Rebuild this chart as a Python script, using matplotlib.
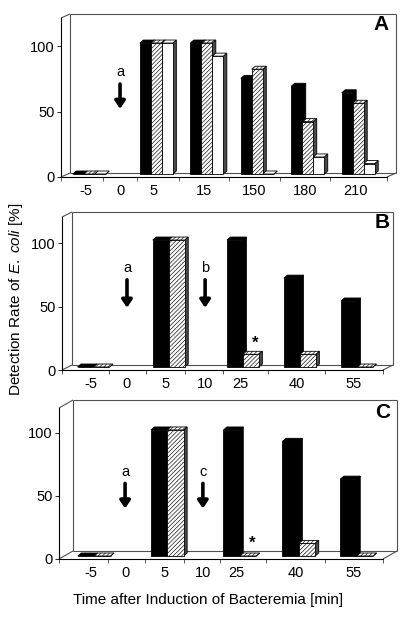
import matplotlib
matplotlib.use('Agg')
import matplotlib.pyplot as plt
from matplotlib.patches import Polygon
from matplotlib.collections import LineCollection

plt.rcParams['font.family'] = ['Liberation Sans', 'DejaVu Sans']
plt.rcParams['mathtext.fontset'] = 'custom'
plt.rcParams['mathtext.it'] = 'Liberation Sans:italic'
plt.rcParams['mathtext.rm'] = 'Liberation Sans'
plt.rcParams['hatch.linewidth'] = 0.45

# ---------------- data ----------------
cats_A = ['-5', '0', '5', '15', '150', '180', '210']
A_black = [0, None, 100, 100, 73, 67, 62]
A_hatch = [0, None, 100, 100, 80, 40, 54]
A_white = [0, None, 100, 90, 0, 13, 8]

cats_BC = ['-5', '0', '5', '10', '25', '40', '55']
B_black = [0, None, 100, None, 100, 70, 52]
B_hatch = [0, None, 100, None, 10, 10, 0]
C_black = [0, None, 100, None, 100, 91, 61]
C_hatch = [0, None, 100, None, 0, 10, 0]

yticks = [0, 50, 100]

# ---------------- layout ----------------
W, H = 409, 619
fig = plt.figure(figsize=(W / 100, H / 100), dpi=100)

STY_BLACK = dict(face='black', hatch=None, side='black')
STY_HATCH = dict(face='white', hatch='////////', side='#4a4a4a')
STY_WHITE = dict(face='white', hatch=None, side='#4a4a4a')


def panel(rect, ytop, xmax, pos, cats, series, styles, bw, wall, letter,
          letter_xy, notes):
    l, r, b, t = rect
    ax = fig.add_axes([l / W, 1 - b / H, (r - l) / W, (b - t) / H])
    ax.set_xlim(0, xmax)
    ax.set_ylim(0, ytop)
    sx = (r - l) / xmax
    sy = (b - t) / ytop
    px = lambda p: p / sx
    py = lambda p: p / sy

    # walls / floor
    wx, wy = px(wall[0]), py(wall[1])
    segs = [[(0, ytop), (wx, ytop + wy)],
            [(wx, ytop + wy), (xmax + wx, ytop + wy)],
            [(wx, wy), (wx, ytop + wy)],
            [(xmax + wx, ytop + wy), (xmax + wx, wy)],
            [(wx, wy), (xmax + wx, wy)],
            [(0, 0), (wx, wy)],
            [(xmax, 0), (xmax + wx, wy)]]
    lc = LineCollection(segs, colors='#505050', linewidths=0.8, clip_on=False, zorder=1)
    ax.add_collection(lc)

    for s in ['top', 'right']:
        ax.spines[s].set_visible(False)
    for s in ['left', 'bottom']:
        ax.spines[s].set_linewidth(0.8)

    # bars
    n = len(series)
    ox, oy = px(3), py(3)
    dx, dy = px(3.5), py(3)
    z = 3.0
    for i, p in enumerate(pos):
        for j, (vals, st) in enumerate(zip(series, styles)):
            v = vals[i]
            if v is None:
                continue
            x0 = p - n * bw / 2 + j * bw + ox
            y0 = oy
            side = Polygon([(x0 + bw, y0), (x0 + bw + dx, y0 + dy),
                            (x0 + bw + dx, y0 + v + dy), (x0 + bw, y0 + v)],
                           closed=True, facecolor=st['side'], edgecolor='black',
                           lw=0.6, zorder=z)
            ax.add_patch(side)
            top = Polygon([(x0, y0 + v), (x0 + dx, y0 + v + dy),
                           (x0 + bw + dx, y0 + v + dy), (x0 + bw, y0 + v)],
                          closed=True, facecolor=st['face'], edgecolor='black',
                          lw=0.6, hatch=st['hatch'], zorder=z + 0.001)
            ax.add_patch(top)
            ax.bar(x0, v, bw, bottom=y0, align='edge', color=st['face'],
                   hatch=st['hatch'], edgecolor='black', lw=0.6, zorder=z + 0.002)
            z += 0.01

    # ticks
    ax.set_xticks(pos)
    ax.set_xticklabels(cats)
    bounds = [0] + [(pos[k] + pos[k + 1]) / 2 for k in range(len(pos) - 1)] + [xmax]
    ax.set_xticks(bounds, minor=True)
    ax.tick_params(axis='x', which='major', length=0, pad=5, labelsize=10.5)
    ax.tick_params(axis='x', which='minor', length=3, width=0.6, color='#404040')
    ax.set_yticks(yticks)
    ax.tick_params(axis='y', length=3, width=0.6, pad=1.5, labelsize=10.5)

    fig.text(letter_xy[0] / W, 1 - letter_xy[1] / H, letter, fontsize=15,
             fontweight='bold', ha='center', va='center')

    for kind, x, y1, y2 in notes:
        if kind == '*':
            ax.text(x, y1, '*', fontsize=12, fontweight='bold', ha='center',
                    va='center', zorder=10)
        else:
            ax.text(x, y1, kind, fontsize=10.5, ha='center', va='center')
            ax.annotate('', xy=(x, y2), xytext=(x, y1 - 9),
                        arrowprops=dict(arrowstyle='-|>,head_length=0.45,head_width=0.3',
                                        lw=2.6, color='black', shrinkA=0, shrinkB=0))
    return ax


# Panel A
posA = [0.5, 1.17, 1.83, 2.83, 3.83, 4.83, 5.83]
panel((61, 387, 177, 18), 121.4, 6.46, posA, cats_A,
      [A_black, A_hatch, A_white], [STY_BLACK, STY_HATCH, STY_WHITE],
      0.218, (9, 4), 'A', (381, 25),
      [('a', posA[1], 80, 52)])

# Panel B
posB = [0.5, 1.14, 1.82, 2.51, 3.12, 4.12, 5.12]
bwB = 0.28
panel((62, 383, 370, 217), 120.5, 5.63, posB, cats_BC,
      [B_black, B_hatch], [STY_BLACK, STY_HATCH],
      bwB, (10, 5), 'B', (382, 222),
      [('a', posB[1], 80, 49), ('b', posB[3], 80, 49),
       ('*', posB[4] + bwB / 2 + 0.12, 21, None)])

# Panel C
posC = [0.55, 1.13, 1.8, 2.46, 3.04, 4.05, 5.04]
panel((59, 383, 559, 408), 119.8, 5.54, posC, cats_BC,
      [C_black, C_hatch], [STY_BLACK, STY_HATCH],
      bwB, (14, 8), 'C', (383, 413),
      [('a', posC[1], 69, 40), ('c', posC[3], 69, 40),
       ('*', posC[4] + bwB / 2 + 0.12, 12.5, None)])

fig.text(16 / W, 1 - 299 / H, r'Detection Rate of $\it{E.\ coli}$ [%]',
         rotation=90, ha='center', va='center', fontsize=11)
fig.text(208 / W, 1 - 600 / H, 'Time after Induction of Bacteremia [min]',
         ha='center', va='center', fontsize=11)

fig.savefig('out.png', dpi=100)
